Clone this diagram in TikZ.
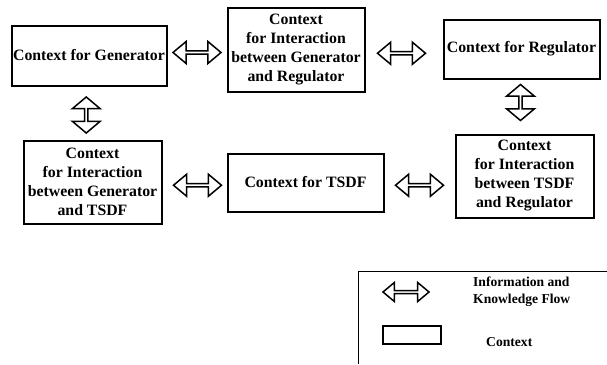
\documentclass[tikz,border=0pt]{standalone}
\usepackage{fontspec}
\setmainfont{Liberation Serif}
\usetikzlibrary{positioning, shapes.arrows}
\tikzstyle{context}=[draw, line width=2pt, align=center, inner sep=0pt, font=\bfseries\fontsize{15.8}{19}\selectfont]
\tikzstyle{infoflow}=[draw, double arrow, line width=1.5pt, inner sep=0pt, minimum height=48pt, minimum width=22pt, double arrow head extend=4.5pt, double arrow tip angle=80]
\tikzstyle{infoflowv}=[infoflow, rotate=90, minimum height=36pt, minimum width=28pt, double arrow head extend=5.5pt, double arrow tip angle=100]
\tikzstyle{legendtext}=[inner sep=0pt, align=left, font=\bfseries\fontsize{13.6}{17}\selectfont]

\begin{document}
\begin{tikzpicture}[x=1pt, y=-1pt]
  \useasboundingbox (0,0) rectangle (607,364);
  \node[context, minimum width=155pt, minimum height=60pt] (gen) at (89,55.5) {Context for Generator};
  \node[context, minimum width=137pt, minimum height=84pt] (ctxGR) [right=59pt of gen, yshift=6pt] {Context\\for Interaction\\between Generator\\and Regulator};
  \node[context, minimum width=156pt, minimum height=59pt] (reg) [right=77pt of ctxGR, yshift=0.5pt] {Context for Regulator};
  \node[context, minimum width=138pt, minimum height=83pt] (ctxGT) [below=53pt of gen, xshift=3.5pt] {Context\\for Interaction\\between Generator\\and TSDF};
  \node[context, minimum width=156pt, minimum height=58pt] (tsdf) [right=64pt of ctxGT, yshift=-0.5pt] {Context for TSDF};
  \node[context, minimum width=138pt, minimum height=83pt] (ctxTR) [right=70pt of tsdf, yshift=6.5pt] {Context\\for Interaction\\between TSDF\\and Regulator};
  \path (gen.east) -- (ctxGR.west) node[midway, infoflow] {};
  \path (ctxGR.east) -- (reg.west) node[midway, infoflow, xshift=-2.5pt, yshift=-4pt] {};
  \path (ctxGT.east) -- (tsdf.west) node[midway, infoflow, xshift=3pt, yshift=-3pt] {};
  \path (tsdf.east) -- (ctxTR.west) node[midway, infoflow, yshift=-6pt] {};
  \path (gen.south) -- (ctxGT.north) node[midway, infoflowv, xshift=-2pt, yshift=4.5pt] {};
  \path (reg.south) -- (ctxTR.north) node[midway, infoflowv, xshift=4pt, yshift=2.5pt] {};
  % legend
  \draw[line width=1pt] (607,271) -- (358,271) -- (358,364);
  \node[infoflow, minimum height=46pt, minimum width=19pt, double arrow head extend=4pt] (legFlow) at (406,292) {};
  \node[draw, line width=1.6pt, minimum width=58pt, minimum height=18pt, inner sep=0pt] (legBox) at (412,335) {};
  \node[legendtext, anchor=west] (legFlowText) at (473,291.5) {Information and\\Knowledge Flow};
  \node[legendtext, anchor=west] (legBoxText) at (486,342) {Context};
\end{tikzpicture}
\end{document}
